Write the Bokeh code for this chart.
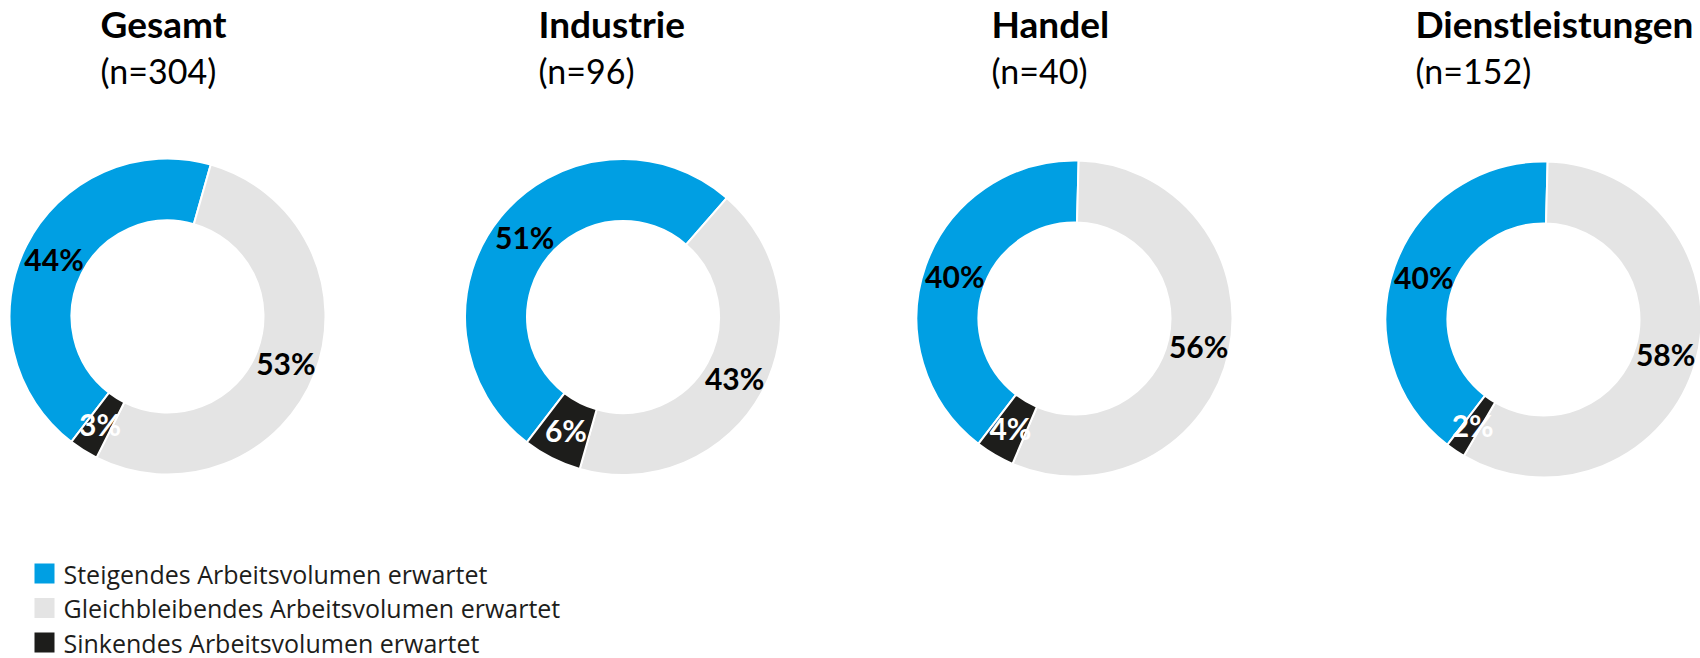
import math
from bokeh.plotting import figure
from bokeh.models import Range1d, ColumnDataSource
from bokeh.embed import file_html
from bokeh.resources import INLINE
from bokeh.core.properties import value

# ---- data ----
groups = ["Gesamt", "Industrie", "Handel", "Dienstleistungen"]
sample_sizes = [304, 96, 40, 152]
series = ["Steigendes Arbeitsvolumen erwartet",
          "Gleichbleibendes Arbeitsvolumen erwartet",
          "Sinkendes Arbeitsvolumen erwartet"]
steigend = [44, 51, 40, 40]
gleichbleibend = [53, 43, 56, 58]
sinkend = [3, 6, 4, 2]

# ---- style / layout ----
colors = ["#009FE3", "#E4E4E4", "#1D1D1B"]
label_colors = ["#000000", "#000000", "#FFFFFF"]
FONT = "Lato"
LEG_FONT = "Open Sans"
W, H = 1700, 658
centers_x = [167, 622.5, 1074, 1543]
centers_y = [316, 316.5, 318, 319]
title_x = [100, 538, 991, 1415]
R_OUT, R_IN = 158, 96
START = 217.5  # degrees clockwise from 12 o'clock

p = figure(width=W, height=H, output_backend="svg", toolbar_location=None,
           x_range=Range1d(0, W), y_range=Range1d(-H, 0),
           x_axis_location=None, y_axis_location=None, min_border=0,
           tools="")
p.grid.visible = False
p.outline_line_color = None
p.background_fill_color = "white"
p.border_fill_color = "white"

values = [steigend, gleichbleibend, sinkend]
wx, wy, sa, ea, fc = [], [], [], [], []
lx, ly, lt, lc = [], [], [], []
for i in range(len(groups)):
    vals = [values[j][i] for j in range(len(series))]
    total = sum(vals)
    th0 = START
    for j, v in enumerate(vals):
        th1 = th0 + 360.0 * v / total
        wx.append(centers_x[i]); wy.append(-centers_y[i])
        sa.append(math.radians(90 - th0)); ea.append(math.radians(90 - th1))
        fc.append(colors[j])
        mid = math.radians(90 - (th0 + th1) / 2)
        rm = (R_OUT + R_IN) / 2
        lx.append(centers_x[i] + rm * math.cos(mid))
        ly.append(-centers_y[i] + rm * math.sin(mid))
        lt.append(f"{v}%")
        lc.append(label_colors[j])
        th0 = th1

src = ColumnDataSource(dict(x=wx, y=wy, sa=sa, ea=ea, fc=fc))
p.annular_wedge(x="x", y="y", inner_radius=R_IN, outer_radius=R_OUT,
                start_angle="sa", end_angle="ea", direction="clock",
                fill_color="fc", line_color="white", line_width=2, source=src)

lsrc = ColumnDataSource(dict(x=lx, y=ly, t=lt, c=lc))
p.text(x="x", y="y", text="t", text_color="c", source=lsrc,
       text_align="center", text_baseline="middle",
       text_font=value(FONT), text_font_style="bold", text_font_size="30px")

# titles
p.text(x=title_x, y=[-22.5] * 4, text=groups, text_align="left",
       text_baseline="middle", text_font=value(FONT),
       text_font_style="bold", text_font_size="37px", text_color="#000000")
p.text(x=title_x, y=[-70] * 4, text=[f"(n={n})" for n in sample_sizes],
       text_align="left", text_baseline="middle", text_font=value(FONT),
       text_font_size="34px", text_color="#000000")

# legend
leg_y = [-573, -607.5, -642]
p.rect(x=[44] * 3, y=leg_y, width=20, height=20, fill_color=colors,
       line_color=None)
p.text(x=[63] * 3, y=leg_y, text=series, text_align="left",
       text_baseline="middle", text_font=value(LEG_FONT),
       text_font_size="25px", text_color="#1D1D1B")

open("out.html", "w").write(file_html(p, INLINE))
